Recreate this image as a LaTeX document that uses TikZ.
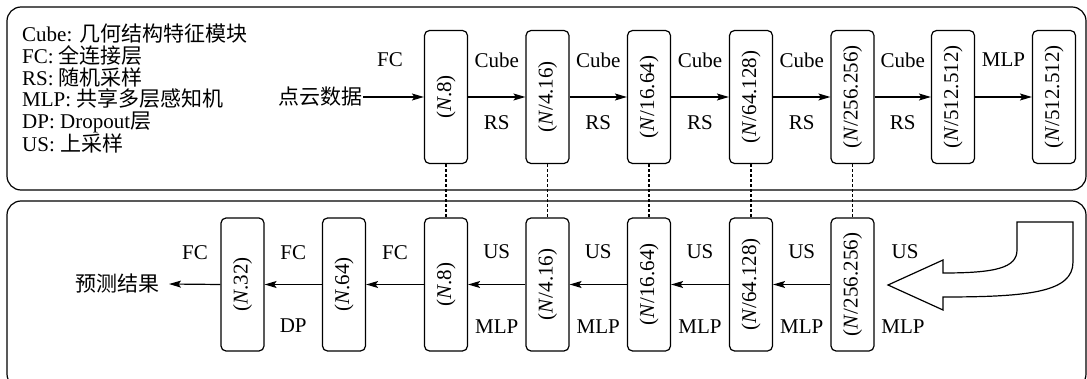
\documentclass[tikz,border=0pt]{standalone}
\usepackage{fontspec}
\usepackage{graphicx}
\setmainfont{Liberation Serif}
\newfontfamily\cjk{Noto Sans CJK SC}
\usetikzlibrary{arrows.meta}
\begin{document}
\begin{tikzpicture}[x=1pt,y=-1pt,
  font=\fontsize{21}{21.6}\selectfont,
  box/.style={draw, line width=1.2pt, rounded corners=5pt, minimum width=43pt, minimum height=133pt, inner sep=0pt},
  lbl/.style={inner sep=0pt},
  arr/.style={line width=1.2pt, -{Stealth[length=12pt,width=7pt,inset=2.5pt]}},
  dotl/.style={line width=1.1pt, dash pattern=on 2.5pt off 2.5pt},
  panel/.style={draw, line width=1.2pt, rounded corners=14pt},
  uarrow/.style={draw, line width=1.2pt, line join=miter}]
\useasboundingbox (0,0) rectangle (1087,379);
% panels
\draw[panel] (7,7) rectangle (1086,190);
\draw[panel] (7,201) rectangle (1086,388);
% legend
\node[anchor=north west, align=left, inner sep=0pt] (legend) at (22,24)
  {Cube: {\cjk 几何结构特征模块}\\
   FC: {\cjk 全连接层}\\
   RS: {\cjk 随机采样}\\
   MLP: {\cjk 共享多层感知机}\\
   DP: Dropout{\cjk 层}\\
   US: {\cjk 上采样}};
% top row
\node[inner sep=1pt] (in) at (320,97) {\cjk 点云数据};
\node[box] (t1) at (446,97) {\rotatebox{90}{(\textit{N}.8)}};
\node[box] (t2) at (547.5,97) {\rotatebox{90}{(\textit{N}/4.16)}};
\node[box] (t3) at (649,97) {\rotatebox{90}{(\textit{N}/16.64)}};
\node[box] (t4) at (751,97) {\rotatebox{90}{(\textit{N}/64.128)}};
\node[box] (t5) at (852.5,97) {\rotatebox{90}{(\textit{N}/256.256)}};
\node[box] (t6) at (953,97) {\rotatebox{90}{(\textit{N}/512.512)}};
\node[box] (t7) at (1054,97) {\rotatebox{90}{(\textit{N}/512.512)}};
\draw[arr] (in.east) -- (t1.west);
\draw[arr] (t1.east) -- (t2.west);
\draw[arr] (t2.east) -- (t3.west);
\draw[arr] (t3.east) -- (t4.west);
\draw[arr] (t4.east) -- (t5.west);
\draw[arr] (t5.east) -- (t6.west);
\draw[arr] (t6.east) -- (t7.west);
\node[lbl] (la0) at (390,60) {FC};
\node[lbl] (la1) at (496.75,60) {Cube};
\node[lbl] (la2) at (598.25,60) {Cube};
\node[lbl] (la3) at (700,60) {Cube};
\node[lbl] (la4) at (801.75,60) {Cube};
\node[lbl] (la5) at (902.75,60) {Cube};
\node[lbl] (la6) at (1003.5,60) {MLP};
\node[lbl] (lb1) at (496.75,123) {RS};
\node[lbl] (lb2) at (598.25,123) {RS};
\node[lbl] (lb3) at (700,123) {RS};
\node[lbl] (lb4) at (801.75,123) {RS};
\node[lbl] (lb5) at (902.75,123) {RS};
% bottom row
\node[inner sep=1pt, inner xsep=9pt, anchor=east] (out) at (169,284) {\cjk 预测结果};
\node[box] (b1) at (242.5,284.5) {\rotatebox{90}{(\textit{N}.32)}};
\node[box] (b2) at (344,284.5) {\rotatebox{90}{(\textit{N}.64)}};
\node[box] (b3) at (446,284.5) {\rotatebox{90}{(\textit{N}.8)}};
\node[box] (b4) at (547.5,284.5) {\rotatebox{90}{(\textit{N}/4.16)}};
\node[box] (b5) at (649,284.5) {\rotatebox{90}{(\textit{N}/16.64)}};
\node[box] (b6) at (751,284.5) {\rotatebox{90}{(\textit{N}/64.128)}};
\node[box] (b7) at (852.5,284.5) {\rotatebox{90}{(\textit{N}/256.256)}};
\draw[arr] (b7.west) -- (b6.east);
\draw[arr] (b6.west) -- (b5.east);
\draw[arr] (b5.west) -- (b4.east);
\draw[arr] (b4.west) -- (b3.east);
\draw[arr] (b3.west) -- (b2.east);
\draw[arr] (b2.west) -- (b1.east);
\draw[arr] (b1.west) -- (out.east);
\node[lbl] (lc0) at (195,253) {FC};
\node[lbl] (lc1) at (293.25,253) {FC};
\node[lbl] (lc2) at (395,253) {FC};
\node[lbl] (lc3) at (496.75,252) {US};
\node[lbl] (lc4) at (598.25,252) {US};
\node[lbl] (lc5) at (700,252) {US};
\node[lbl] (lc6) at (801.75,252) {US};
\node[lbl] (lc7) at (905,252) {US};
\node[lbl] (ld1) at (293.25,326) {DP};
\node[lbl] (ld3) at (496.75,327) {MLP};
\node[lbl] (ld4) at (598.25,327) {MLP};
\node[lbl] (ld5) at (700,327) {MLP};
\node[lbl] (ld6) at (801.75,327) {MLP};
\node[lbl] (ld7) at (903,327) {MLP};
% dotted links
\draw[dotl] (t1.south) -- (b3.north);
\draw[dotl] (t2.south) -- (b4.north);
\draw[dotl] (t3.south) -- (b5.north);
\draw[dotl] (t4.south) -- (b6.north);
\draw[dotl] (t5.south) -- (b7.north);
% U-turn block arrow
\draw[uarrow] (888,285) -- (943,260) -- (943,273)
  .. controls (995,273) and (1017,268) .. (1017,250) -- (1017,222) -- (1073,222) -- (1073,262)
  .. controls (1073,292) and (1030,297) .. (943,297) -- (943,310) -- cycle;
\end{tikzpicture}
\end{document}
